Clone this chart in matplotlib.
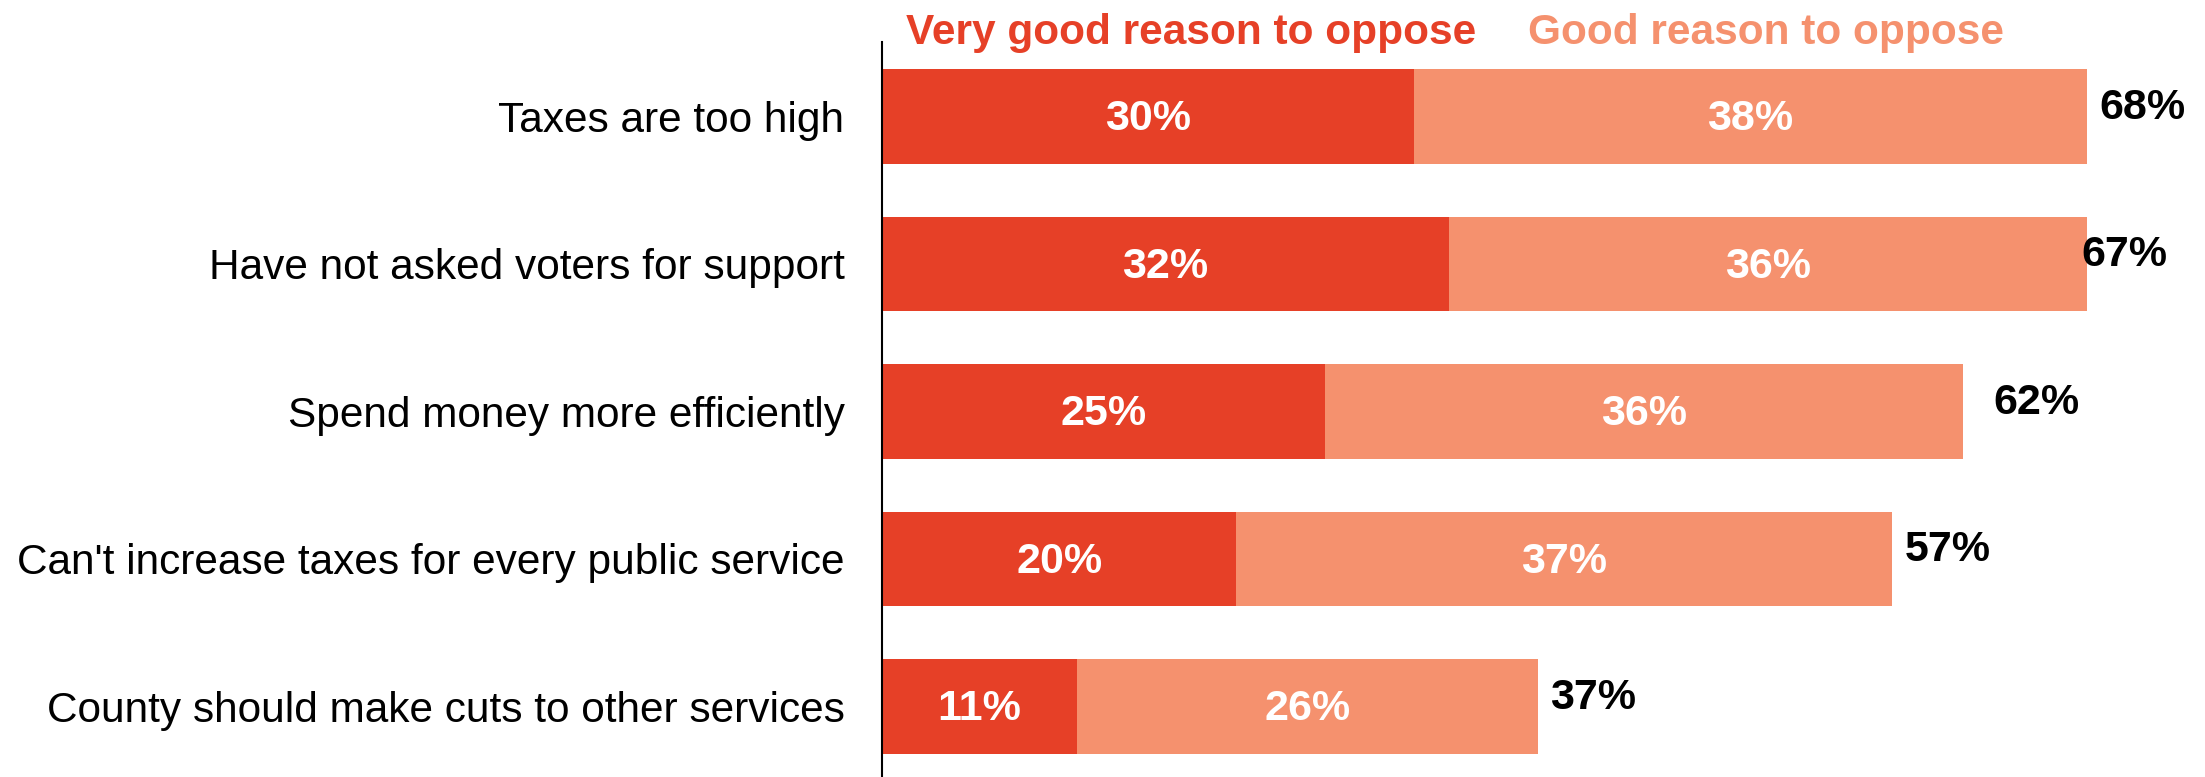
import matplotlib.pyplot as plt

CATEGORIES = [
    "Taxes are too high",
    "Have not asked voters for support",
    "Spend money more efficiently",
    "Can't increase taxes for every public service",
    "County should make cuts to other services",
]
VERY_GOOD = [30, 32, 25, 20, 11]
GOOD = [38, 36, 36, 37, 26]
TOTALS = [68, 67, 62, 57, 37]

SERIES_NAMES = ["Very good reason to oppose", "Good reason to oppose"]
RED = "#E64027"
PINK = "#F5916E"

plt.rcParams["font.family"] = ["Liberation Sans", "DejaVu Sans"]


def main() -> None:
    fig = plt.figure(figsize=(22.05, 7.77), dpi=100)
    ax = fig.add_axes([0.4, 0.0, 0.5947, 0.946])

    y = list(range(len(CATEGORIES)))
    ax.barh(y, VERY_GOOD, height=0.64, color=RED)
    ax.barh(y, GOOD, left=VERY_GOOD, height=0.64, color=PINK)

    for i in y:
        ax.text(VERY_GOOD[i] / 2, i + 0.02, f"{VERY_GOOD[i]}%", ha="center",
                va="center", color="white", fontsize=31, fontweight="bold")
        ax.text(VERY_GOOD[i] + GOOD[i] / 2, i + 0.02, f"{GOOD[i]}%",
                ha="center", va="center", color="white", fontsize=31,
                fontweight="bold")
        ax.text(TOTALS[i] + 0.7, i - 0.06, f"{TOTALS[i]}%", ha="left",
                va="center", color="black", fontsize=31, fontweight="bold",
                clip_on=False)

    ax.set_xlim(0, 74)
    ax.set_ylim(4.478, -0.505)
    ax.set_yticks(y)
    ax.set_yticklabels(CATEGORIES, fontsize=30.5)
    ax.tick_params(axis="y", length=0, pad=27)
    ax.set_xticks([])
    for side in ["top", "right", "bottom"]:
        ax.spines[side].set_visible(False)
    ax.spines["left"].set_linewidth(1.5)

    fig.text(0.540, 0.958, SERIES_NAMES[0], ha="center", va="center",
             color=RED, fontsize=30.5, fontweight="bold")
    fig.text(0.801, 0.958, SERIES_NAMES[1], ha="center", va="center",
             color=PINK, fontsize=30.5, fontweight="bold")

    fig.savefig("out.png", dpi=100)
    plt.close(fig)


if __name__ == "__main__":
    main()
